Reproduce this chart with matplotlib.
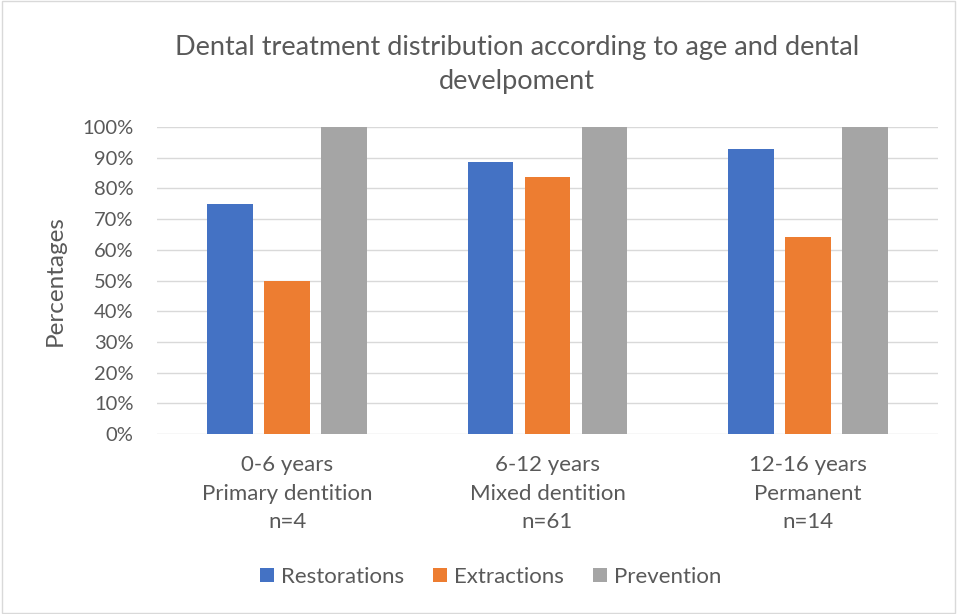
import numpy as np
import matplotlib.pyplot as plt
from matplotlib.patches import Rectangle
from matplotlib.ticker import PercentFormatter

# andmed
categories = ['0-6 years\nPrimary dentition\nn=4',
              '6-12 years\nMixed dentition\nn=61',
              '12-16 years\nPermanent\nn=14']
series_names = ['Restorations', 'Extractions', 'Prevention']
restorations = [75.0, 88.5, 92.9]
extractions = [50.0, 83.6, 64.3]
prevention = [100.0, 100.0, 100.0]
colors = ['#4472C4', '#ED7D31', '#A5A5A5']

plt.rcParams['font.family'] = ['Lato', 'DejaVu Sans']
text_color = '#595959'

fig = plt.figure(figsize=(9.57, 6.14), dpi=100)
ax = fig.add_axes([157 / 957, 1 - 434 / 614, (938 - 157) / 957, (434 - 127) / 614])

x = np.arange(len(categories))
width = 0.176
step = 0.219
for i, (vals, name) in enumerate(zip([restorations, extractions, prevention], series_names)):
    ax.bar(x + (i - 1) * step, vals, width, color=colors[i], label=name, zorder=3)

ax.set_xlim(-0.5, 2.5)
ax.set_ylim(0, 100)
ax.set_yticks(np.arange(0, 101, 10))
ax.yaxis.set_major_formatter(PercentFormatter(decimals=0))
ax.set_xticks(x)
ax.set_xticklabels(categories, linespacing=1.55)
ax.grid(axis='y', color='#D9D9D9', linewidth=1, zorder=0)
for s in ax.spines.values():
    s.set_visible(False)
ax.tick_params(length=0, colors=text_color)
ax.tick_params(axis='y', labelsize=14.5, pad=17)
ax.tick_params(axis='x', labelsize=16, pad=15)

ax.set_ylabel('Percentages', fontsize=17.5, color=text_color, labelpad=12)
fig.text(0.54, 1 - 64 / 614, 'Dental treatment distribution according to age and dental\ndevelpoment',
         ha='center', va='center', fontsize=19.5, color=text_color, linespacing=1.45)

leg = fig.legend(loc='center', bbox_to_anchor=(0.513, 1 - 577 / 614), ncol=3, frameon=False,
                 fontsize=16, handlelength=0.6, handleheight=0.6, columnspacing=1.3,
                 handletextpad=0.35)
for t in leg.get_texts():
    t.set_color(text_color)

fig.patches.append(Rectangle((0.002, 0.002), 0.996, 0.996, transform=fig.transFigure,
                             fill=False, edgecolor='#D9D9D9', linewidth=1))

fig.savefig('out.png', dpi=100)
